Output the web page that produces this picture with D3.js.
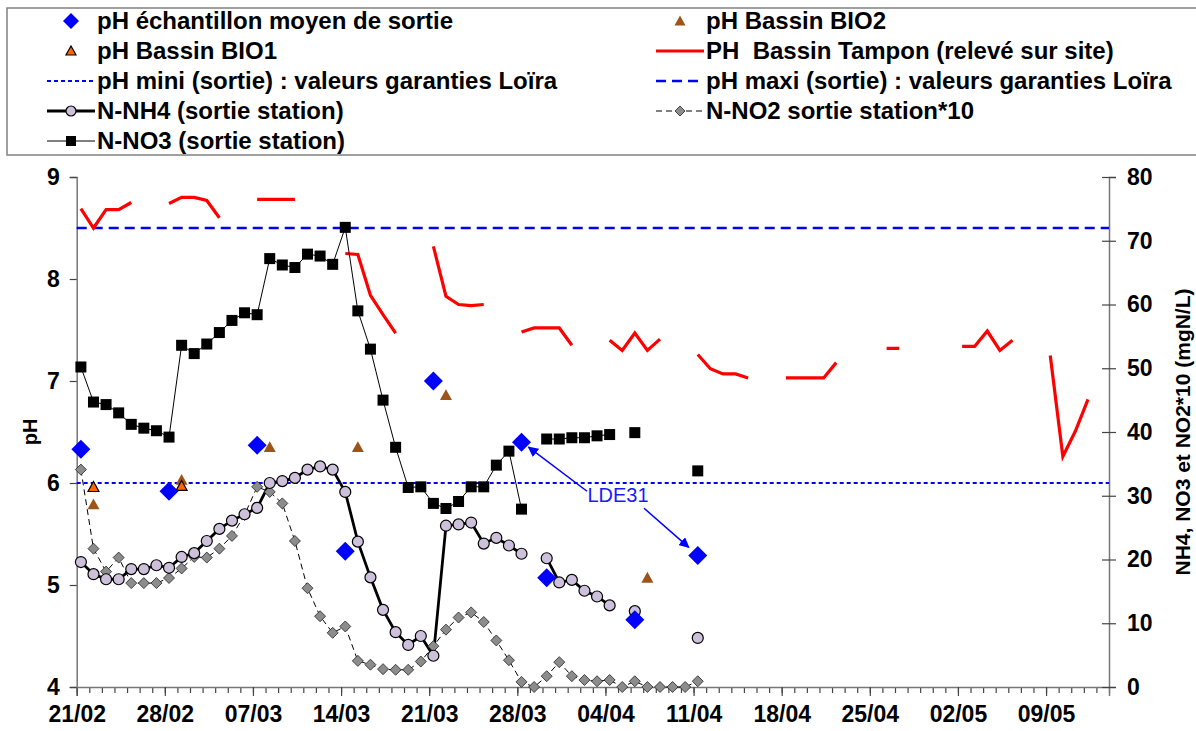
<!DOCTYPE html>
<html>
<head>
<meta charset="utf-8">
<script src="https://cdn.jsdelivr.net/npm/d3@7"></script>
<style>
  body { margin: 0; background: #fff; }
  text { font-family: "Liberation Sans", Arial, sans-serif; }
</style>
</head>
<body>
<div id="app"></div>
<script>
// jour 0 = 21/02, une valeur par jour (null = pas de mesure)
const debut = "21/02"
const fin = "14/05"

const nh4 = [19.6,17.7,16.9,16.9,18.5,18.5,19.1,18.7,20.4,21.0,22.9,24.8,26.1,27.1,28.1,32.0,32.3,32.8,34.1,34.6,34.1,30.6,22.8,17.2,12.1,8.6,6.6,8.0,4.9,25.3,25.5,25.8,22.5,23.4,22.2,20.9,null,20.2,16.4,16.8,15.1,14.2,12.8,null,11.9,null,null,null,null,7.7]
const no2x10 = [34.1,21.7,18.1,20.3,16.3,16.3,16.3,17.1,18.6,20.4,20.3,21.7,23.7,27.0,31.4,30.6,28.8,22.9,15.5,11.1,8.5,9.5,4.1,3.5,2.8,2.7,2.7,4.0,6.4,9.0,10.9,11.7,10.2,7.3,4.2,0.8,0,1.7,3.9,1.7,1.1,0.9,1.1,0,0.9,0,0,0,0,0.9]
const no3 = [50.2,44.7,44.3,43.0,41.2,40.6,40.2,39.2,53.6,52.3,53.8,55.6,57.5,58.7,58.4,67.2,66.2,65.8,67.9,67.6,66.3,72.1,59.0,53.0,45.0,37.6,31.3,31.4,28.8,28.0,29.1,31.4,31.4,34.8,37.0,27.9,null,38.9,38.9,39.1,39.1,39.4,39.6,null,39.9,null,null,null,null,33.9]
const phTampon = [8.69,8.50,8.68,8.68,8.75,null,null,8.74,8.80,8.80,8.77,8.60,null,null,8.78,8.78,8.78,8.78,null,null,null,8.25,8.24,7.84,7.65,7.47,null,null,8.32,7.83,7.75,7.74,7.75,null,null,7.48,7.52,7.52,7.52,7.35,null,null,7.40,7.30,7.47,7.30,7.41,null,null,7.26,7.12,7.07,7.07,7.03,null,null,7.03,7.03,7.03,7.03,7.18,null,null,null,7.32,7.32,null,null,null,null,7.34,7.34,7.49,7.30,7.40,null,null,7.25,6.26,6.51,6.82]

const phEchantillon = [["21/02",6.33],["28/02",5.92],["07/03",6.37],["14/03",5.33],["21/03",7.00],["28/03",6.40],["30/03",5.07],["06/04",4.66],["11/04",5.29]]
const phBio2 = [["22/02",5.79],["01/03",6.03],["08/03",6.35],["15/03",6.35],["22/03",6.86],["07/04",5.07]]
const phBio1 = [["22/02",5.96],["01/03",5.97]]

const phMini = 6
const phMaxi = 8.5

const phTicks = [4,5,6,7,8,9]
const nTicks = [0,10,20,30,40,50,60,70,80]
const dateTicks = ["21/02","28/02","07/03","14/03","21/03","28/03","04/04","11/04","18/04","25/04","02/05","09/05"]

const annotation = { texte: "LDE31", date: "05/04", ph: 5.88, cibles: ["28/03","11/04"] }

const w = 1196
const h = 731
const mLeft = 76.7, mRight = 1109, mTop = 177, mBottom = 687
const police = "Liberation Sans, Arial, sans-serif"

const parse = s => d3.timeParse("%d/%m/%Y")(s + "/2003")
const jour = i => d3.timeDay.offset(parse(debut), i)
const mesure = d => d3.timeHour.offset(d, 8)

const svg = d3.select("#app")
  .append("svg")
  .attr("width", w)
  .attr("height", h)
  .style("background-color", "white")

const x = d3.scaleTime()
  .domain([parse(debut), parse(fin)])
  .range([mLeft, mRight])
const yPh = d3.scaleLinear().domain([4, 9]).range([mBottom, mTop])
const yN = d3.scaleLinear().domain([0, 80]).range([mBottom, mTop])

// ---- axes
const axeX = svg.append("g").attr("transform", "translate(0," + mBottom + ")")
axeX.call(d3.axisBottom(x).ticks(d3.timeDay.every(1)).tickSize(6).tickFormat(""))
axeX.select(".domain").remove()
const axeX2 = svg.append("g").attr("transform", "translate(0," + mBottom + ")")
axeX2.call(d3.axisBottom(x).tickValues(dateTicks.map(parse)).tickSize(9).tickPadding(10).tickFormat(d3.timeFormat("%d/%m")))

const axeG = svg.append("g").attr("transform", "translate(" + mLeft + ",0)")
axeG.call(d3.axisLeft(yPh).tickValues(phTicks).tickSize(7).tickPadding(10).tickFormat(d3.format("d")))

const axeD = svg.append("g").attr("transform", "translate(" + mRight + ",0)")
axeD.call(d3.axisRight(yN).tickValues(nTicks).tickSize(7).tickPadding(11))
axeD.selectAll(".tick line").attr("x1", -7)

svg.selectAll(".domain").attr("stroke", "#777").attr("stroke-width", 1.5)
svg.selectAll(".tick line").attr("stroke", "#444").attr("stroke-width", 1.2)
svg.selectAll(".tick text")
  .attr("fill", "black")
  .style("font-family", police)
  .style("font-weight", "bold")
  .style("font-size", "23px")

svg.append("text")
  .attr("transform", "translate(37," + (mTop + mBottom) / 2 + ") rotate(-90)")
  .attr("text-anchor", "middle")
  .style("font-weight", "bold")
  .style("font-size", "20px")
  .text("pH")

svg.append("text")
  .attr("transform", "translate(1190," + (mTop + mBottom) / 2 + ") rotate(-90)")
  .attr("text-anchor", "middle")
  .style("font-weight", "bold")
  .style("font-size", "21px")
  .text("NH4, NO3 et NO2*10 (mgN/L)")

// ---- seuils
svg.append("line")
  .attr("x1", mLeft).attr("x2", mRight)
  .attr("y1", yPh(phMaxi)).attr("y2", yPh(phMaxi))
  .attr("stroke", "#0000ff").attr("stroke-width", 2.5).attr("stroke-dasharray", "10,6")
svg.append("line")
  .attr("x1", mLeft).attr("x2", mRight)
  .attr("y1", yPh(phMini)).attr("y2", yPh(phMini))
  .attr("stroke", "#0000ff").attr("stroke-width", 2.2).attr("stroke-dasharray", "4,3")

// ---- series
const ligne = (y) => d3.line()
  .defined(d => d.v !== null)
  .x(d => x(mesure(d.date)))
  .y(d => y(d.v))

const serie = arr => arr.map((v, i) => ({ date: jour(i), v: v }))
const points = arr => arr.map(p => ({ date: parse(p[0]), v: p[1] }))

svg.append("path")
  .datum(serie(phTampon))
  .attr("d", ligne(yPh))
  .attr("fill", "none").attr("stroke", "#ff0000").attr("stroke-width", 3.2)

svg.append("path")
  .datum(serie(no2x10))
  .attr("d", ligne(yN))
  .attr("fill", "none").attr("stroke", "black").attr("stroke-width", 1).attr("stroke-dasharray", "6,4")

svg.append("path")
  .datum(serie(no3))
  .attr("d", ligne(yN))
  .attr("fill", "none").attr("stroke", "black").attr("stroke-width", 1)

svg.append("path")
  .datum(serie(nh4))
  .attr("d", ligne(yN))
  .attr("fill", "none").attr("stroke", "black").attr("stroke-width", 2.8)

const losange = r => "M0," + (-r) + "L" + r + ",0L0," + r + "L" + (-r) + ",0Z"
const triangle = r => "M0," + (-r) + "L" + r + "," + (r * 0.8) + "L" + (-r) + "," + (r * 0.8) + "Z"

svg.append("g").selectAll("path")
  .data(serie(no2x10).filter(d => d.v !== null))
  .enter().append("path")
  .attr("transform", d => "translate(" + x(mesure(d.date)) + "," + yN(d.v) + ")")
  .attr("d", losange(5.5))
  .attr("fill", "#8c8c8c").attr("stroke", "#222").attr("stroke-width", 0.8)

svg.append("g").selectAll("rect")
  .data(serie(no3).filter(d => d.v !== null))
  .enter().append("rect")
  .attr("x", d => x(mesure(d.date)) - 5.5)
  .attr("y", d => yN(d.v) - 5.5)
  .attr("width", 11).attr("height", 11)
  .attr("fill", "black")

svg.append("g").selectAll("circle")
  .data(serie(nh4).filter(d => d.v !== null))
  .enter().append("circle")
  .attr("cx", d => x(mesure(d.date)))
  .attr("cy", d => yN(d.v))
  .attr("r", 5.5)
  .attr("fill", "#ccc0da").attr("stroke", "black").attr("stroke-width", 1.2)

svg.append("g").selectAll("path")
  .data(points(phBio2))
  .enter().append("path")
  .attr("transform", d => "translate(" + x(mesure(d.date)) + "," + yPh(d.v) + ")")
  .attr("d", triangle(6))
  .attr("fill", "#9c5418")

svg.append("g").selectAll("path")
  .data(points(phBio1))
  .enter().append("path")
  .attr("transform", d => "translate(" + x(mesure(d.date)) + "," + yPh(d.v) + ")")
  .attr("d", triangle(5.5))
  .attr("fill", "#ff6600").attr("stroke", "black").attr("stroke-width", 1.2)

svg.append("g").selectAll("path")
  .data(points(phEchantillon))
  .enter().append("path")
  .attr("transform", d => "translate(" + x(mesure(d.date)) + "," + yPh(d.v) + ")")
  .attr("d", losange(9.5))
  .attr("fill", "#0000ff")

// ---- annotation LDE31
svg.append("defs").append("marker")
  .attr("id", "fleche")
  .attr("viewBox", "0 0 10 10")
  .attr("refX", 9).attr("refY", 5)
  .attr("markerWidth", 7).attr("markerHeight", 7)
  .attr("orient", "auto")
  .append("path").attr("d", "M0,0L10,5L0,10Z").attr("fill", "#0000ff")

const tx = x(parse(annotation.date)), ty = yPh(annotation.ph)
svg.append("text")
  .attr("x", tx).attr("y", ty + 7)
  .attr("text-anchor", "middle")
  .attr("fill", "#1a1aff")
  .style("font-size", "20px")
  .text(annotation.texte)

const c1 = parse(annotation.cibles[0]), c2 = parse(annotation.cibles[1])
const v1 = phEchantillon.find(p => p[0] === annotation.cibles[0])[1]
const v2 = phEchantillon.find(p => p[0] === annotation.cibles[1])[1]
svg.append("line")
  .attr("x1", tx - 31).attr("y1", ty - 4)
  .attr("x2", x(mesure(c1)) + 7).attr("y2", yPh(v1) + 5)
  .attr("stroke", "#0000ff").attr("stroke-width", 1.5).attr("marker-end", "url(#fleche)")
svg.append("line")
  .attr("x1", tx + 26).attr("y1", ty + 13)
  .attr("x2", x(mesure(c2)) - 9).attr("y2", yPh(v2) - 8)
  .attr("stroke", "#0000ff").attr("stroke-width", 1.5).attr("marker-end", "url(#fleche)")

// ---- legende
const legende = svg.append("g")
legende.append("rect")
  .attr("x", 7).attr("y", 8)
  .attr("width", 1200).attr("height", 147)
  .attr("fill", "white").attr("stroke", "#808080").attr("stroke-width", 1.5)

const items = [
  { col: 0, row: 0, label: "pH échantillon moyen de sortie", type: "losange" },
  { col: 0, row: 1, label: "pH Bassin BIO1", type: "bio1" },
  { col: 0, row: 2, label: "pH mini (sortie) : valeurs garanties Loïra", type: "mini" },
  { col: 0, row: 3, label: "N-NH4 (sortie station)", type: "nh4" },
  { col: 0, row: 4, label: "N-NO3 (sortie station)", type: "no3" },
  { col: 1, row: 0, label: "pH Bassin BIO2", type: "bio2" },
  { col: 1, row: 1, label: "PH  Bassin Tampon (relevé sur site)", type: "tampon" },
  { col: 1, row: 2, label: "pH maxi (sortie) : valeurs garanties Loïra", type: "maxi" },
  { col: 1, row: 3, label: "N-NO2 sortie station*10", type: "no2" }
]
const colX = [71, 680]
const rowY = r => 21 + r * 30

items.forEach(it => {
  const g = legende.append("g").attr("transform", "translate(" + colX[it.col] + "," + rowY(it.row) + ")")
  const trait = (style) => g.append("line").attr("x1", -24).attr("x2", 24).attr("y1", 0).attr("y2", 0).call(style)
  if (it.type === "losange") g.append("path").attr("d", losange(8)).attr("fill", "#0000ff")
  if (it.type === "bio1") g.append("path").attr("d", triangle(5)).attr("fill", "#ff6600").attr("stroke", "black").attr("stroke-width", 1.2)
  if (it.type === "bio2") g.append("path").attr("d", triangle(5.5)).attr("fill", "#9c5418")
  if (it.type === "mini") trait(s => s.attr("stroke", "#0000ff").attr("stroke-width", 2).attr("stroke-dasharray", "4,3"))
  if (it.type === "maxi") trait(s => s.attr("stroke", "#0000ff").attr("stroke-width", 2.5).attr("stroke-dasharray", "10,6"))
  if (it.type === "tampon") trait(s => s.attr("stroke", "#ff0000").attr("stroke-width", 3.2))
  if (it.type === "nh4") {
    trait(s => s.attr("stroke", "black").attr("stroke-width", 2.8))
    g.append("circle").attr("r", 5).attr("fill", "#ccc0da").attr("stroke", "black").attr("stroke-width", 1.2)
  }
  if (it.type === "no3") {
    trait(s => s.attr("stroke", "black").attr("stroke-width", 1))
    g.append("rect").attr("x", -5).attr("y", -5).attr("width", 10).attr("height", 10).attr("fill", "black")
  }
  if (it.type === "no2") {
    trait(s => s.attr("stroke", "black").attr("stroke-width", 1).attr("stroke-dasharray", "6,4"))
    g.append("path").attr("d", losange(5)).attr("fill", "#8c8c8c").attr("stroke", "#222").attr("stroke-width", 0.8)
  }
  g.append("text")
    .attr("x", 26).attr("y", 0)
    .attr("dy", "0.35em")
    .style("font-weight", "bold")
    .style("font-size", "24px")
    .style("white-space", "pre")
    .attr("xml:space", "preserve")
    .text(it.label)
})
</script>
</body>
</html>
